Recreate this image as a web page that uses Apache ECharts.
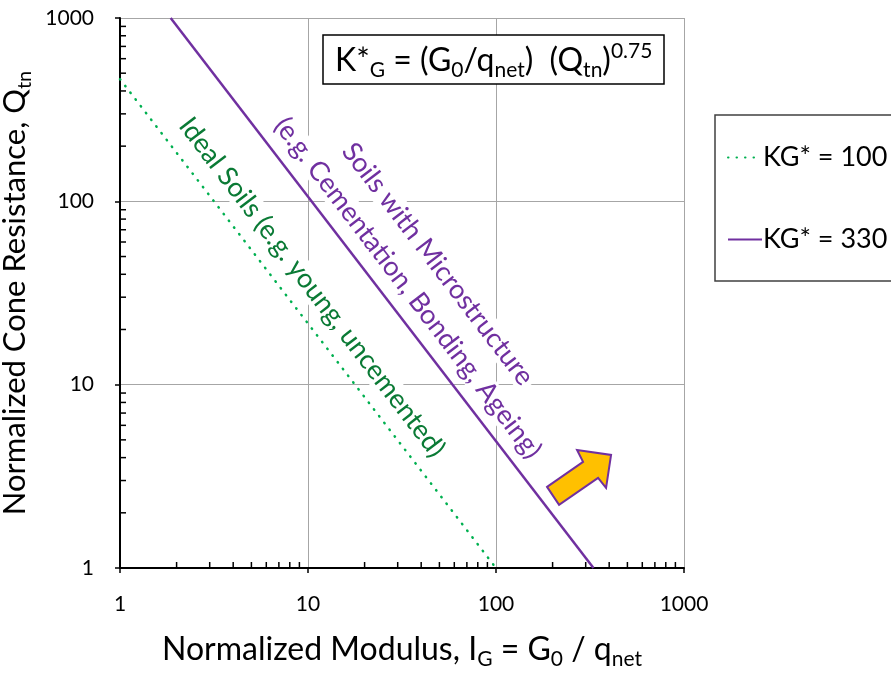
<!DOCTYPE html>
<html>
<head>
  <meta charset="utf-8">
  <title>K*G chart</title>
  <script src="https://cdn.jsdelivr.net/npm/echarts@6/dist/echarts.min.js"></script>
  <style>
    html, body { margin: 0; padding: 0; background: #fff; }
    #chart { width: 891px; height: 679px; }
  </style>
</head>
<body>
  <div id="chart"></div>
<script>
  // line end points (IG, Qtn)
  const kg100 = [[1, 464], [100, 1]];
  const kg330 = [[1.86, 1000], [330, 1]];
  const seriesNames = ['KG* = 100', 'KG* = 330'];

  // log axis ticks
  const axisMin = 1;
  const axisMax = 1000;
  const minorTicks = [2, 3, 4, 5, 6, 7, 8, 9, 20, 30, 40, 50, 60, 70, 80, 90,
    200, 300, 400, 500, 600, 700, 800, 900];

  // annotation anchors in data coords
  const idealAnchor = [10.5, 34];
  const microAnchor1 = [49, 45.5];
  const microAnchor2 = [34, 33.7];
  const arrowAnchor = [280, 3.1];

  const FONT = 'Lato';
  const GREEN = '#00B050';
  const PURPLE = '#7030A0';

  const chart = echarts.init(document.getElementById('chart'));

  const richTxt = function (size) {
    const s = Math.round(size * 0.65);
    return {
      n: { fontSize: size, fontFamily: FONT, fontWeight: 'normal', color: '#000', lineHeight: size * 1.25 },
      sub: { fontSize: s, fontFamily: FONT, fontWeight: 'normal', color: '#000', verticalAlign: 'bottom', lineHeight: s },
      sup: { fontSize: s, fontFamily: FONT, fontWeight: 'normal', color: '#000', verticalAlign: 'top', lineHeight: s }
    };
  };

  function mainAxis(name, nameGap, isY, nameSize) {
    return {
      type: 'log',
      logBase: 10,
      min: axisMin,
      max: axisMax,
      name: name,
      nameLocation: 'middle',
      nameGap: nameGap,
      nameRotate: isY ? 90 : 0,
      nameTextStyle: { rich: richTxt(nameSize) },
      axisLine: { show: true, onZero: false, lineStyle: { color: '#000', width: 2 } },
      axisTick: { show: true, inside: false, length: 5, lineStyle: { color: '#000', width: 1.5 } },
      axisLabel: {
        margin: 26, fontSize: 21, fontFamily: FONT, color: '#000',
        formatter: function (v) { return String(Math.round(v)); }
      },
      splitLine: { show: true, lineStyle: { color: '#A6A6A6', width: 1 } }
    };
  }

  chart.setOption({
    animation: false,
    backgroundColor: '#fff',
    grid: { left: 120, right: 207, top: 18, bottom: 111, containLabel: false, outerBoundsMode: 'none' },
    title: {
      text: '{n|K*}{sub|G}{n| = (G}{sub|0}{n|/q}{sub|net}{n|)  (Q}{sub|tn}{n|)}{sup|0.75}',
      left: 323,
      top: 35,
      padding: [6, 12, 3, 12],
      borderColor: '#000',
      borderWidth: 1.5,
      backgroundColor: '#fff',
      textStyle: { rich: richTxt(32) }
    },
    legend: {
      data: seriesNames,
      orient: 'vertical',
      left: 715,
      top: 115,
      padding: [29, 40, 28, 12],
      itemGap: 55,
      itemWidth: 34,
      itemHeight: 14,
      borderColor: '#404040',
      borderWidth: 1.5,
      itemStyle: { opacity: 0 },
      textStyle: { fontSize: 27, fontFamily: FONT, color: '#000', padding: [0, 0, 0, -4] }
    },
    xAxis: mainAxis('{n|Normalized Modulus, I}{sub|G}{n| = G}{sub|0}{n| / q}{sub|net}', 62, false, 32),
    yAxis: mainAxis('{n|Normalized Cone Resistance, Q}{sub|tn}', 71, true, 31),
    series: [
      {
        name: seriesNames[0],
        type: 'line',
        data: kg100,
        showSymbol: false,
        symbol: 'none',
        color: GREEN,
        lineStyle: { color: GREEN, width: 2.5, type: [0.5, 8], cap: 'round' }
      },
      {
        name: seriesNames[1],
        type: 'line',
        data: kg330,
        showSymbol: false,
        symbol: 'none',
        color: PURPLE,
        lineStyle: { color: PURPLE, width: 2.5 }
      }
    ]
  });

  const rot = -52.6 * Math.PI / 180;
  const px = function (p) { return chart.convertToPixel({ gridIndex: 0 }, p); };

  function label(anchor, text, color) {
    const p = px(anchor);
    return {
      type: 'text',
      x: p[0],
      y: p[1],
      rotation: rot,
      z: 10,
      style: {
        text: text,
        fontSize: 27,
        fontFamily: FONT,
        fill: color,
        align: 'center',
        verticalAlign: 'middle',
        backgroundColor: '#fff',
        padding: [0, 4]
      }
    };
  }

  // minor ticks on the log axes (inside)
  const origin = px([axisMin, axisMin]);
  const tickStyle = { stroke: '#000', lineWidth: 1.5 };
  const ticks = [];
  minorTicks.forEach(function (v) {
    const p = px([v, v]);
    ticks.push({ type: 'line', z: 5, shape: { x1: p[0], y1: origin[1], x2: p[0], y2: origin[1] - 6 }, style: tickStyle });
    ticks.push({ type: 'line', z: 5, shape: { x1: origin[0], y1: p[1], x2: origin[0] + 6, y2: p[1] }, style: tickStyle });
  });

  const a = px(arrowAnchor);
  chart.setOption({
    graphic: ticks.concat([
      label(idealAnchor, 'Ideal Soils (e.g. young, uncemented)', '#0A7A35'),
      label(microAnchor1, 'Soils with Microstructure', PURPLE),
      label(microAnchor2, '(e.g. Cementation, Bonding, Ageing)', PURPLE),
      {
        type: 'polygon',
        x: a[0],
        y: a[1],
        z: 10,
        shape: {
          points: [[-33, 9], [3, -16], [-3, -28], [31, -23], [26, 10], [18, 0], [-21, 27]]
        },
        style: { fill: '#FFC000', stroke: PURPLE, lineWidth: 2 }
      }
    ])
  });
</script>
</body>
</html>
